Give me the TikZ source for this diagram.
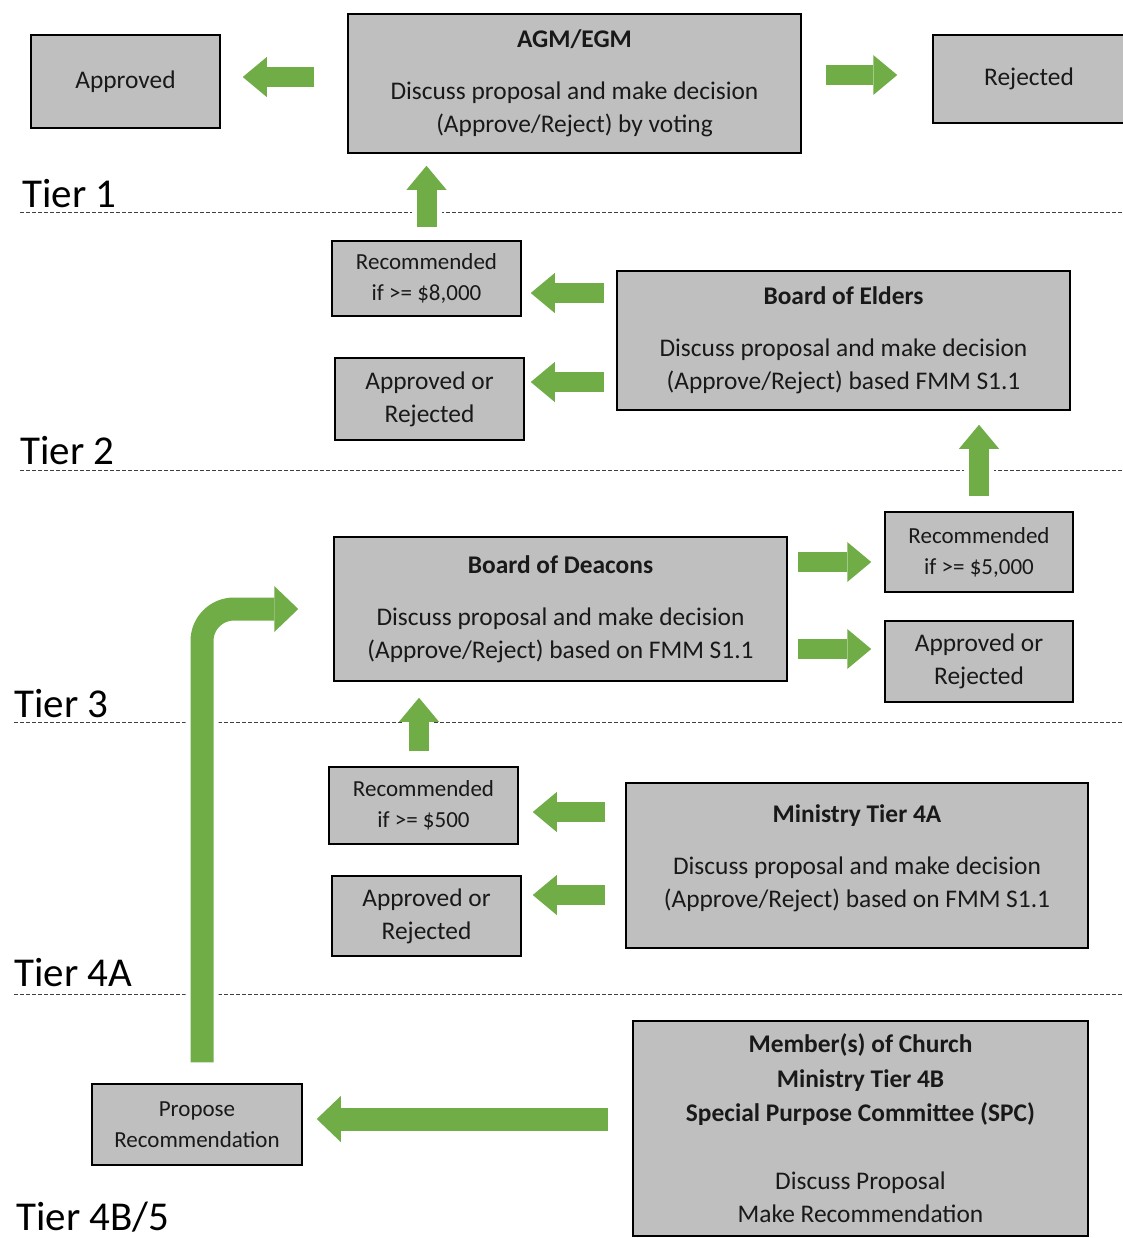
\documentclass[tikz,border=0pt]{standalone}
\usepackage{fontspec}
\setmainfont{Carlito}
\usepackage{xcolor}
\usepackage{tikz}
\usetikzlibrary{arrows.meta,positioning}
\definecolor{boxfill}{RGB}{191,191,191}
\definecolor{flowgreen}{RGB}{112,173,71}
\tikzset{
  block/.style={
    draw=black, fill=boxfill, line width=0.75pt, align=center, inner sep=0pt,
    text=black!90, font=\fontsize{12.7}{16.5}\selectfont},
  smallblock/.style={block, font=\fontsize{11.5}{15.5}\selectfont},
  tierlabel/.style={anchor=base west, inner sep=0pt, font=\fontsize{20.5}{24}\selectfont},
  tierline/.style={black!75, line width=0.5pt, dash pattern=on 2pt off 1pt},
  % fat green block arrows (white halo cuts the tier lines)
  flow/.style={-{Triangle[length=12pt,width=20pt,line width=0pt]}, flowgreen,
    line width=10pt, preaction={draw=white, line width=15pt, arrows=-}},
  bigflow/.style={-{Triangle[length=12pt,width=23pt,line width=0pt]}, flowgreen,
    line width=11.5pt, preaction={draw=white, line width=16.5pt, arrows=-}},
}

\begin{document}
\begin{tikzpicture}[x=0.5pt, y=-0.5pt]
\useasboundingbox (0,0) rectangle (1123,1238);

% ---------- tier separators ----------
\draw[tierline] (20,212) -- (1123,212);
\draw[tierline] (20,470) -- (1123,470);
\draw[tierline] (14,722) -- (1123,722);
\draw[tierline] (14,994) -- (1123,994);

\node[tierlabel] (tier1)  at (22,207)  {Tier 1};
\node[tierlabel] (tier2)  at (20,464)  {Tier 2};
\node[tierlabel] (tier3)  at (14,717)  {Tier 3};
\node[tierlabel] (tier4a) at (14,986)  {Tier 4A};
\node[tierlabel] (tier4b) at (16,1230) {Tier 4B/5};

% ---------- tier 1 ----------
\node[block, minimum width=94.5pt, minimum height=46.5pt] (approved) at (125.5,81.5) {Approved};
\node[block, minimum width=226.5pt, minimum height=69.5pt] (agm) at (574.5,83.5)
  {\textbf{AGM/EGM}\\[9.5pt] Discuss proposal and make decision\\(Approve/Reject) by voting};
\node[block, minimum width=96pt, minimum height=44pt] (rejected) at (1029,79) {Rejected};

% ---------- tier 2 ----------
\node[smallblock, minimum width=94.5pt, minimum height=37.5pt] (rec8) at (426.5,278.5)
  {Recommended\\if >= \$8,000};
\node[block, minimum width=94.5pt, minimum height=41pt] (aor2) at (429.5,399) {Approved or\\Rejected};
\node[block, minimum width=226.5pt, minimum height=69.5pt] (elders) at (843.5,340.5)
  {\textbf{Board of Elders}\\[9.5pt] Discuss proposal and make decision\\(Approve/Reject) based FMM S1.1};

% ---------- tier 3 ----------
\node[block, minimum width=226.5pt, minimum height=72pt] (deacons) at (560.5,609)
  {\textbf{Board of Deacons}\\[9.5pt] Discuss proposal and make decision\\(Approve/Reject) based on FMM S1.1};
\node[smallblock, minimum width=94pt, minimum height=40pt] (rec5) at (979,552)
  {Recommended\\if >= \$5,000};
\node[block, minimum width=94pt, minimum height=40.5pt] (aor3) at (979,661.5) {Approved or\\Rejected};

% ---------- tier 4A ----------
\node[smallblock, minimum width=94.5pt, minimum height=38.5pt] (rec500) at (423.5,805.5)
  {Recommended\\if >= \$500};
\node[block, minimum width=94.5pt, minimum height=40pt] (aor4) at (426.5,916) {Approved or\\Rejected};
\node[block, minimum width=231pt, minimum height=82.5pt] (min4a) at (857,865.5)
  {\textbf{Ministry Tier 4A}\\[9.5pt] Discuss proposal and make decision\\(Approve/Reject) based on FMM S1.1\\[-7.5pt]};

% ---------- tier 4B/5 ----------
\node[smallblock, minimum width=105pt, minimum height=40.5pt] (propose) at (197,1124.5)
  {Propose\\Recommendation};
\node[block, minimum width=227.5pt, minimum height=107.5pt] (members) at (860.5,1128.5)
  {\textbf{Member(s) of Church}\\[0.75pt] \textbf{Ministry Tier 4B}\\[0.75pt]
   \textbf{Special Purpose Committee (SPC)}\\[17.5pt] Discuss Proposal\\Make Recommendation};

% ---------- flows ----------
\draw[flow, shorten <=16.5pt, shorten >=11pt] ([yshift=3.25pt]agm.west) -- ([yshift=3.25pt]agm.west -| approved.east);
\draw[flow, shorten <=12pt, shorten >=17.5pt] ([yshift=4.25pt]agm.east) -- ([yshift=4.25pt]agm.east -| rejected.west);
\draw[flow, shorten <=6.5pt, shorten >=6pt] (rec8.north) -- (rec8.north |- agm.south);
\draw[flow, shorten <=6pt, shorten >=4.5pt] ([yshift=-7.25pt]elders.west |- rec8.east) -- ([yshift=-7.25pt]rec8.east);
\draw[flow, shorten <=6pt, shorten >=3pt] ([yshift=8.5pt]elders.west |- aor2.east) -- ([yshift=8.5pt]aor2.east);
\draw[flow, shorten <=7.5pt, shorten >=7pt] (rec5.north) -- (rec5.north |- elders.south);
\draw[flow, shorten <=5pt, shorten >=6.5pt] ([yshift=-5pt]deacons.east |- rec5.west) -- ([yshift=-5pt]rec5.west);
\draw[flow, shorten <=5pt, shorten >=6.5pt] ([yshift=6.25pt]deacons.east |- aor3.west) -- ([yshift=6.25pt]aor3.west);
\draw[flow, shorten <=7.5pt, shorten >=8pt] ([xshift=-2.25pt]rec500.north) -- ([xshift=-2.25pt]rec500.north |- deacons.south);
\draw[flow, shorten <=10pt, shorten >=7pt] ([yshift=-3.25pt]min4a.west |- rec500.east) -- ([yshift=-3.25pt]rec500.east);
\draw[flow, shorten <=10pt, shorten >=5.5pt] ([yshift=10.5pt]min4a.west |- aor4.east) -- ([yshift=10.5pt]aor4.east);
\draw[bigflow, shorten <=12pt, shorten >=7pt] ([yshift=2.75pt]members.west |- propose.east) -- ([yshift=2.75pt]propose.east);
\draw[bigflow, rounded corners=16pt, shorten <=10.5pt, shorten >=17.5pt] ([xshift=2.5pt]propose.north) |- (deacons.west);

\end{tikzpicture}
\end{document}
